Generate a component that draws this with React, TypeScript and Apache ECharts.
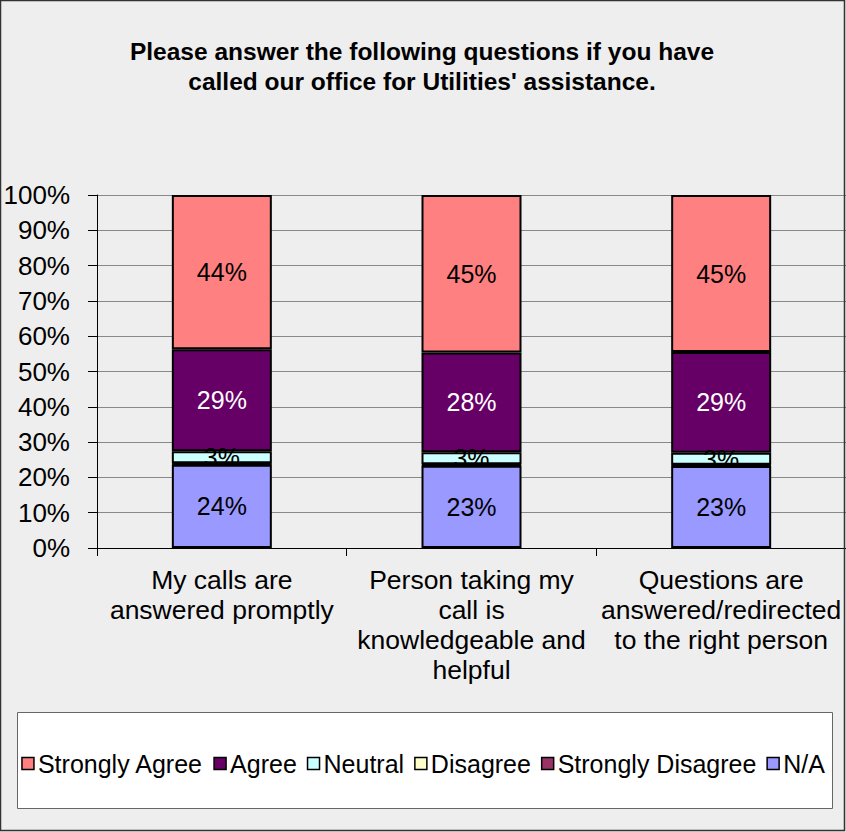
import React, { useEffect, useRef } from "react";
import * as echarts from "echarts";

const categories = [
  "My calls are\nanswered promptly",
  "Person taking my\ncall is\nknowledgeable and\nhelpful",
  "Questions are\nanswered/redirected\nto the right person",
];
const seriesNames = ["Strongly Agree", "Agree", "Neutral", "Disagree", "Strongly Disagree", "N/A"];
const naValues = [23.6, 23.3, 23.2];
const stronglyDisagreeValues = [0.2, 0.2, 0.2];
const disagreeValues = [0.2, 0.2, 0.2];
const neutralValues = [3.4, 3.4, 3.4];
const agreeValues = [28.9, 28.3, 28.5];
const stronglyAgreeValues = [43.7, 44.6, 44.5];
const yTicks = [0, 10, 20, 30, 40, 50, 60, 70, 80, 90, 100];

const colors: Record<string, string> = {
  "Strongly Agree": "#FF8080",
  Agree: "#660066",
  Neutral: "#CCFFFF",
  Disagree: "#FFFFCC",
  "Strongly Disagree": "#993366",
  "N/A": "#9999FF",
};

const FONT = "'Liberation Sans', Arial, sans-serif";
const FS = 25;

export default function App() {
  const ref = useRef<HTMLDivElement>(null);
  useEffect(() => {
    if (!ref.current) return;
    const chart = echarts.init(ref.current, undefined, { renderer: "svg" });
    const mk = (name: string, data: number[], showLabel: boolean, labelColor: string) => ({
      name,
      type: "bar",
      stack: "total",
      barWidth: 100,
      data,
      itemStyle: { color: colors[name], borderColor: "#000", borderWidth: 2 },
      label: {
        show: showLabel,
        position: "inside",
        formatter: (p: any) => Math.round(p.value) + "%",
        fontSize: FS,
        fontFamily: FONT,
        color: labelColor,
      },
    });
    chart.setOption({
      animation: false,
      backgroundColor: "#EEEEEE",
      textStyle: { fontFamily: FONT },
      title: {
        text: "Please answer the following questions if you have\ncalled our office for Utilities' assistance.",
        left: 417,
        textAlign: "center",
        top: 31,
        textStyle: {
          fontFamily: FONT,
          fontSize: 24.5,
          fontWeight: "bold",
          color: "#000",
          lineHeight: 30,
        },
      },
      graphic: [
        {
          type: "rect",
          shape: { x: 0.5, y: 0.5, width: 844, height: 830 },
          style: { fill: "none", stroke: "#333", lineWidth: 1.5 },
          z: 100,
        },
        {
          type: "rect",
          shape: { x: 17.5, y: 712.5, width: 815, height: 96 },
          style: { fill: "#FFFFFF", stroke: "#666", lineWidth: 1 },
          z: -1,
        },
      ],
      legend: {
        data: seriesNames,
        left: "center",
        top: 746,
        width: 840,
        orient: "horizontal",
        itemWidth: 12,
        itemHeight: 12,
        itemGap: 10,
        textStyle: { fontSize: FS, fontFamily: FONT, color: "#000", padding: [0, 0, 0, -1] },
        icon: "rect",
        itemStyle: { borderColor: "#000", borderWidth: 1.5 },
        z: 10,
      },
      grid: { left: 97, right: 0, top: 195, bottom: 284, containLabel: false },
      xAxis: {
        type: "category",
        data: categories,
        axisLine: { lineStyle: { color: "#000", width: 1 } },
        axisTick: { show: true, alignWithLabel: false, length: 8, lineStyle: { color: "#000" } },
        axisLabel: {
          fontSize: 26.5,
          fontFamily: FONT,
          color: "#000",
          lineHeight: 30,
          margin: 17,
          interval: 0,
        },
      },
      yAxis: {
        type: "value",
        min: yTicks[0],
        max: yTicks[yTicks.length - 1],
        interval: 10,
        axisLine: { show: true, lineStyle: { color: "#000", width: 1 } },
        axisTick: { show: true, length: 9, lineStyle: { color: "#000" } },
        splitLine: { show: true, lineStyle: { color: "#888", width: 1 } },
        axisLabel: {
          fontSize: 26,
          fontFamily: FONT,
          color: "#000",
          margin: 27,
          formatter: (v: number) => v + "%",
        },
      },
      series: [
        mk("N/A", naValues, true, "#000"),
        mk("Strongly Disagree", stronglyDisagreeValues, false, "#fff"),
        mk("Disagree", disagreeValues, false, "#000"),
        mk("Neutral", neutralValues, true, "#000"),
        mk("Agree", agreeValues, true, "#fff"),
        mk("Strongly Agree", stronglyAgreeValues, true, "#000"),
      ],
    });
    return () => chart.dispose();
  }, []);
  return (
    <div
      ref={ref}
      style={{ position: "fixed", left: 0, top: 0, width: 846, height: 832 }}
    />
  );
}
